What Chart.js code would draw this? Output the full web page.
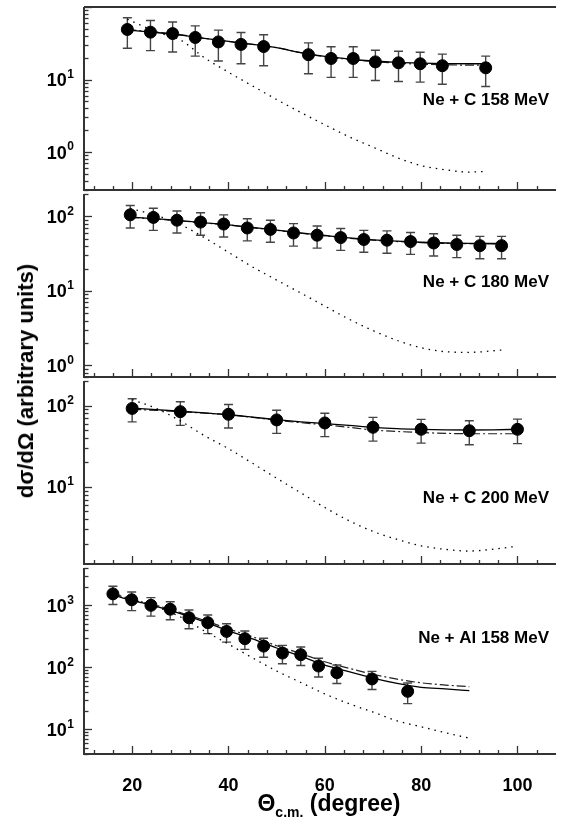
<!DOCTYPE html>
<html>
<head>
<meta charset="utf-8">
<script src="https://cdn.jsdelivr.net/npm/chart.js@4.4.0/dist/chart.umd.min.js"></script>
<style>
  body { margin: 0; background: #fff; width: 563px; height: 836px; position: relative; overflow: hidden;
         font-family: "Liberation Sans", Arial, sans-serif; }
  .box { position: absolute; left: 0; width: 563px; }
  #ytitle { position: absolute; left: 26px; top: 381px; transform: translate(-50%, -50%) rotate(-90deg);
            font-weight: bold; font-size: 22px; white-space: nowrap; color: #000; }
</style>
</head>
<body>
<div class="box" style="top:0px;height:197px"><canvas id="c1"></canvas></div>
<div class="box" style="top:187px;height:197px"><canvas id="c2"></canvas></div>
<div class="box" style="top:374px;height:197px"><canvas id="c3"></canvas></div>
<div class="box" style="top:561px;height:275px"><canvas id="c4"></canvas></div>
<div id="ytitle">dσ/dΩ (arbitrary units)</div>
<script>
// x axis labels
const xTicks = [20, 40, 60, 80, 100];

// Ne + C 158 MeV
const angC158 = [19.0, 23.8, 28.4, 33.1, 37.9, 42.6, 47.3, 56.6, 61.3, 65.9, 70.5, 75.3, 79.8, 84.4, 93.4];
const xsC158 = [49, 45, 43, 38, 33, 30.5, 28.5, 22, 19.5, 19.5, 17.5, 17, 16.5, 15.5, 14.5];
const errC158 = [22, 20, 19, 17, 15, 14, 13, 10, 8.8, 8.8, 7.8, 7.6, 7.3, 6.9, 6.5];
const thC158 = [19, 25, 30, 35, 40, 45, 50, 55, 60, 65, 70, 75, 80, 85, 90, 93.4];
const solidC158 = [48, 44.5, 41, 37, 33.5, 30.5, 27.5, 23.5, 20.8, 19.2, 18, 17.2, 16.8, 16.6, 16.5, 16.5];
const dashC158 = [49, 45, 41.5, 37, 33.5, 30.5, 27.5, 23.5, 20.6, 19, 17.7, 16.8, 16.3, 16.0, 15.8, 15.8];
const dotC158 = [68, 45.4, 35.2, 20.0, 12.6, 8.15, 5.3, 3.52, 2.38, 1.63, 1.17, 0.84, 0.65, 0.57, 0.53, 0.54];

// Ne + C 180 MeV
const angC180 = [19.6, 24.4, 29.3, 34.2, 39.0, 43.9, 48.7, 53.5, 58.4, 63.3, 68.1, 72.9, 77.8, 82.6, 87.4, 92.2, 96.7];
const xsC180 = [105, 97, 89, 84, 79, 70, 67, 60, 56, 52, 49, 48, 46, 44, 42, 40.5, 40.5];
const errC180 = [35, 32, 29, 28, 26, 23, 22, 20, 18.5, 17, 16, 16, 15, 14.5, 14, 13.5, 13.5];
const thC180 = [19.6, 25, 30, 35, 40, 45, 50, 55, 60, 65, 70, 75, 80, 85, 90, 96.7];
const solidC180 = [98, 93, 88, 82, 77, 71, 65.5, 60, 55.5, 51.5, 48.5, 46.5, 45, 44, 43.5, 43.5];
const dashC180 = [97, 92, 87, 81.5, 76.5, 70.5, 65, 59.5, 55, 51, 48, 46, 44.5, 43.5, 43, 42.5];
const dotC180 = [128, 103, 77.8, 51.9, 33.0, 21.0, 14.0, 9.38, 6.26, 4.19, 2.94, 2.17, 1.73, 1.53, 1.50, 1.61];

// Ne + C 200 MeV
const angC200 = [20, 30, 40, 50, 60, 70, 80, 90, 100];
const xsC200 = [92, 84, 78, 66.5, 61, 54, 51, 49, 51];
const errC200 = [29, 27, 25, 21, 19.5, 17.5, 16.5, 16, 17];
const thC200 = [20, 25, 30, 35, 40, 45, 50, 55, 60, 65, 70, 75, 80, 85, 90, 95, 100];
const solidC200 = [93, 89, 85, 81, 77, 72, 67, 63, 60, 57, 54, 52, 51, 50.3, 50, 50.3, 51];
const dashC200 = [90, 87, 84, 80.5, 77, 71.5, 66, 61.5, 58, 54, 50, 48, 46.5, 45.5, 45, 45, 45];
const dotC200 = [118, 92, 64.7, 42.7, 29.5, 19.5, 12.8, 8.47, 5.58, 3.85, 2.84, 2.27, 1.89, 1.71, 1.63, 1.72, 1.87];

// Ne + Al 158 MeV
const angAl = [16.0, 19.9, 23.9, 27.9, 31.8, 35.7, 39.6, 43.4, 47.3, 51.2, 55.0, 58.7, 62.5, 69.8, 77.2];
const xsAl = [1530, 1230, 1000, 865, 630, 525, 380, 290, 220, 170, 160, 105, 82, 65, 41];
const errAl = [500, 410, 330, 280, 210, 175, 125, 95, 75, 56, 53, 35, 27, 21, 15];
const thAl = [16, 20, 25, 30, 35, 40, 45, 50, 55, 60, 65, 70, 75, 80, 85, 90];
const solidAl = [1473, 1200, 964, 736, 543, 387, 288, 205, 151, 109, 85, 66.8, 55, 47.5, 44.8, 42];
const dashAl = [1528, 1245, 1000, 763, 570, 416, 311, 223, 167, 123, 96.5, 77.4, 64.5, 56.3, 51.8, 48.8];
const dotAl = [1585, 1245, 940, 652, 386, 237, 142, 87.3, 57.0, 37.3, 25.9, 19.0, 13.7, 11.0, 8.83, 7.2];

Chart.defaults.font.family = '"Liberation Sans", Arial, sans-serif';
const FONT = '"Liberation Sans", Arial, sans-serif';

const pts = (xs, ys) => xs.map((x, i) => ({ x: x, y: ys[i] }));

const framePlugin = {
  id: 'frame',
  beforeDatasetsDraw(chart) {
    const { ctx, scales: { x, y } } = chart;
    const ds = chart.data.datasets[0];
    ctx.save();
    ctx.strokeStyle = '#444';
    ctx.lineWidth = 1.4;
    ds.data.forEach((p, i) => {
      const e = ds.errs[i];
      const px = x.getPixelForValue(p.x);
      const y1 = y.getPixelForValue(p.y + e);
      const y2 = y.getPixelForValue(p.y - e);
      ctx.beginPath();
      ctx.moveTo(px, y1); ctx.lineTo(px, y2);
      ctx.moveTo(px - 4.5, y1); ctx.lineTo(px + 4.5, y1);
      ctx.moveTo(px - 4.5, y2); ctx.lineTo(px + 4.5, y2);
      ctx.stroke();
    });
    ctx.restore();
  },
  afterDraw(chart, args, opts) {
    const { ctx, chartArea: a, scales: { x, y } } = chart;
    ctx.save();
    ctx.strokeStyle = '#333';
    ctx.lineWidth = 1.3;
    // y ticks (inward)
    const e0 = Math.floor(Math.log10(y.min)), e1 = Math.ceil(Math.log10(y.max));
    for (let e = e0; e <= e1; e++) {
      for (let m = 1; m <= 9; m++) {
        const v = m * Math.pow(10, e);
        if (v < y.min * 0.999 || v > y.max * 1.001) continue;
        const py = Math.round(y.getPixelForValue(v)) + 0.5;
        ctx.beginPath();
        ctx.moveTo(a.left, py); ctx.lineTo(a.left + (m === 1 ? 8 : 4.5), py);
        ctx.stroke();
      }
    }
    // x ticks (inward, every 4 degrees)
    for (let v = 12; v < x.max; v += 4) {
      const px = Math.round(x.getPixelForValue(v)) + 0.5;
      ctx.beginPath();
      ctx.moveTo(px, a.bottom); ctx.lineTo(px, a.bottom - (v % 20 === 0 ? 8 : 4));
      ctx.stroke();
    }
    // frame
    ctx.lineWidth = 2;
    ctx.beginPath();
    ctx.moveTo(a.left, a.top); ctx.lineTo(a.left, a.bottom); ctx.lineTo(a.right, a.bottom);
    if (opts.top) { ctx.moveTo(a.left, a.top); ctx.lineTo(a.right, a.top); }
    ctx.stroke();
    // y labels: 10^n
    ctx.fillStyle = '#000';
    ctx.textBaseline = 'middle';
    for (let e = e0; e <= e1; e++) {
      const v = Math.pow(10, e);
      if (v < y.min || v > y.max) continue;
      const py = y.getPixelForValue(v);
      if (py < a.top + 5) continue;
      ctx.font = 'bold 12px ' + FONT;
      const ex = String(e);
      const we = ctx.measureText(ex).width;
      ctx.textAlign = 'left';
      ctx.fillText(ex, 74 - we, py - 5);
      ctx.font = 'bold 18px ' + FONT;
      const wb = ctx.measureText('10').width;
      ctx.fillText('10', 74 - we - wb - 0.5, py + 1.5);
    }
    // panel label
    ctx.font = 'bold 17px ' + FONT;
    ctx.textAlign = 'right';
    ctx.fillText(opts.label, 549, opts.labelY);
    // x title
    if (opts.xtitle) {
      const cx = 329, ty = opts.xtitleY;
      ctx.font = 'bold 23px ' + FONT;
      const w1 = ctx.measureText('Θ').width;
      const w3 = ctx.measureText(' (degree)').width;
      ctx.font = 'bold 14px ' + FONT;
      const w2 = ctx.measureText('c.m.').width;
      let sx = cx - (w1 + w2 + w3) / 2;
      ctx.textAlign = 'left';
      ctx.font = 'bold 23px ' + FONT;
      ctx.fillText('Θ', sx, ty);
      ctx.font = 'bold 14px ' + FONT;
      ctx.fillText('c.m.', sx + w1, ty + 8);
      ctx.font = 'bold 23px ' + FONT;
      ctx.fillText(' (degree)', sx + w1 + w2, ty);
    }
    ctx.restore();
  }
};

function makePanel(id, ang, xs, err, th, solid, dash, dot, yMin, yMax, label, labelY, last) {
  new Chart(document.getElementById(id), {
    type: 'line',
    data: {
      datasets: [
        { data: pts(ang, xs), errs: err, showLine: false, pointRadius: 6,
          pointBackgroundColor: '#000', pointBorderColor: '#000' },
        { data: pts(th, solid), borderColor: '#000', borderWidth: 1.3, pointRadius: 0,
          cubicInterpolationMode: 'monotone' },
        { data: pts(th, dash), borderColor: '#222', borderWidth: 1.2, borderDash: [9, 3, 2, 3], pointRadius: 0,
          cubicInterpolationMode: 'monotone' },
        { data: pts(th, dot), borderColor: '#000', borderWidth: 1.3, borderDash: [1.5, 5], pointRadius: 0,
          cubicInterpolationMode: 'monotone' }
      ]
    },
    options: {
      responsive: true,
      maintainAspectRatio: false,
      animation: false,
      events: [],
      layout: { padding: { left: 84, right: 0, top: 5, bottom: last ? 0 : 5 } },
      plugins: {
        legend: { display: false },
        tooltip: { enabled: false },
        frame: { label: label, labelY: labelY, top: id === 'c1', xtitle: last, xtitleY: 244 }
      },
      scales: {
        x: {
          type: 'linear', min: 10, max: 108, display: last,
          grid: { display: false }, border: { display: false },
          afterBuildTicks: s => { s.ticks = xTicks.map(v => ({ value: v })); },
          afterFit: s => { s.height = last ? 82 : 0; },
          ticks: { font: { size: 18, weight: 'bold' }, color: '#000', padding: 13, maxRotation: 0, autoSkip: false }
        },
        y: { type: 'logarithmic', min: yMin, max: yMax, display: false }
      }
    },
    plugins: [framePlugin]
  });
}

makePanel('c1', angC158, xsC158, errC158, thC158, solidC158, dashC158, dotC158, 0.32, 100, 'Ne + C 158 MeV', 100, false);
makePanel('c2', angC180, xsC180, errC180, thC180, solidC180, dashC180, dotC180, 0.7, 200, 'Ne + C 180 MeV', 282 - 187, false);
makePanel('c3', angC200, xsC200, errC200, thC200, solidC200, dashC200, dotC200, 1.13, 200, 'Ne + C 200 MeV', 498 - 374, false);
makePanel('c4', angAl, xsAl, errAl, thAl, solidAl, dashAl, dotAl, 4, 4000, 'Ne + Al 158 MeV', 638 - 561, true);
</script>
</body>
</html>
